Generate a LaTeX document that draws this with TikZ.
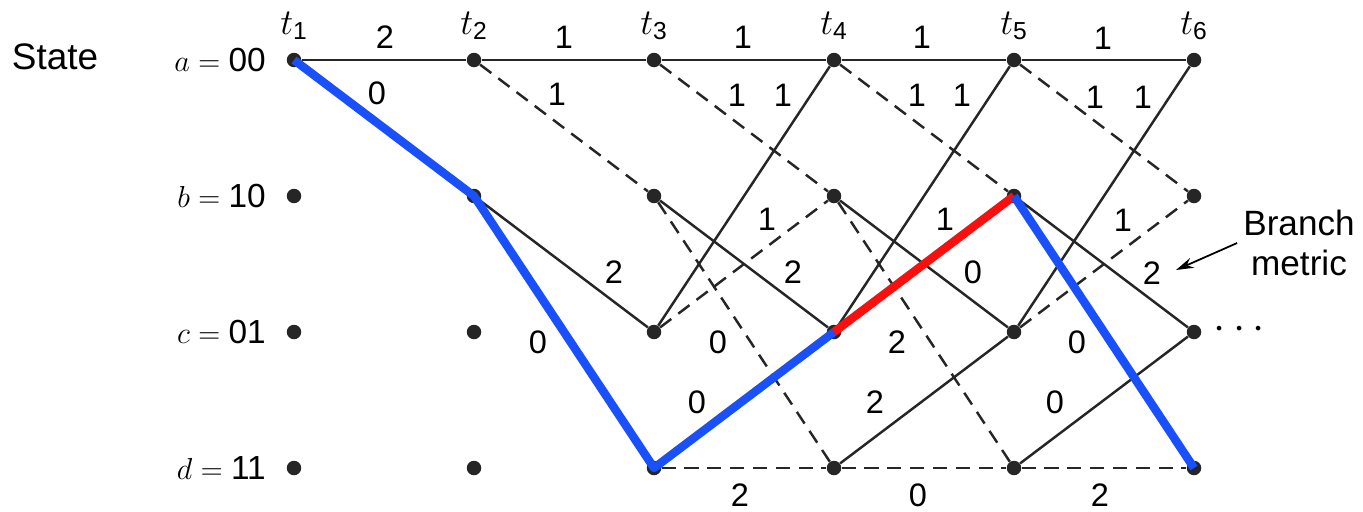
\documentclass[tikz,border=0pt]{standalone}
\usepackage{amsmath}
\usepackage{fontspec}
\setmainfont{Liberation Sans}
\usetikzlibrary{arrows.meta}

\definecolor{bleuchemin}{RGB}{25,80,250}
\definecolor{rougechemin}{RGB}{250,15,15}

\tikzset{
  etat/.style={circle, fill=black!85, inner sep=0pt, minimum size=0.29cm},
  branche/.style={line width=1.4pt, draw=black!85},
  branchetiret/.style={line width=1.4pt, draw=black!85, dash pattern=on 8pt off 5pt},
  chemin/.style={line width=4.8pt, draw=bleuchemin, line join=round},
  cheminrouge/.style={line width=4.8pt, draw=rougechemin, line join=round},
  metrique/.style={inner sep=1pt, font=\fontsize{18.5}{22}\selectfont},
}

\begin{document}
\begin{tikzpicture}[x=0.02cm, y=-0.02cm, font=\fontsize{19}{22}\selectfont]
        \useasboundingbox (0,0) rectangle (1363,511);
        % Etats
        \node[font=\fontsize{21}{24}\selectfont] (titre) at (55,57) {State};
        \node[anchor=east] (etiqa) at (272,60) {$a=\text{00}$};
        \node[anchor=east] (etiqb) at (272,196) {$b=\text{10}$};
        \node[anchor=east] (etiqc) at (272,332) {$c=\text{01}$};
        \node[anchor=east] (etiqd) at (272,468) {$d=\text{11}$};
        
        % Noeuds du treillis
        \foreach \i/\x in {1/294,2/474,3/654,4/834,5/1014,6/1194}{
            \node[etat] (a\i) at (\x,60) {};
            \node[etat] (b\i) at (\x,196) {};
            \node[etat] (c\i) at (\x,332) {};
            \node[etat] (d\i) at (\x,468) {};
            \node[font=\fontsize{20}{23}\selectfont] (t\i) at (\x,26) {$t_{\text{\i}}$};
        }
        
        % Branches t1 -> t2
        \draw[branche] (a1) -- (a2);
        
        % Branches t2 -> t3
        \draw[branche] (a2) -- (a3);
        \draw[branchetiret] (a2) -- (b3);
        \draw[branche] (b2) -- (c3);
        
        % Branches t3 -> t4
        \draw[branche] (a3) -- (a4);
        \draw[branchetiret] (a3) -- (b4);
        \draw[branche] (b3) -- (c4);
        \draw[branchetiret] (b3) -- (d4);
        \draw[branche] (c3) -- (a4);
        \draw[branchetiret] (c3) -- (b4);
        \draw[branchetiret] (d3) -- (d4);
        
        % Branches t4 -> t5
        \draw[branche] (a4) -- (a5);
        \draw[branchetiret] (a4) -- (b5);
        \draw[branche] (b4) -- (c5);
        \draw[branchetiret] (b4) -- (d5);
        \draw[branche] (c4) -- (a5);
        \draw[branche] (d4) -- (c5);
        \draw[branchetiret] (d4) -- (d5);
        
        % Branches t5 -> t6
        \draw[branche] (a5) -- (a6);
        \draw[branchetiret] (a5) -- (b6);
        \draw[branche] (b5) -- (c6);
        \draw[branche] (c5) -- (a6);
        \draw[branchetiret] (c5) -- (b6);
        \draw[branche] (d5) -- (c6);
        \draw[branchetiret] (d5) -- (d6);
        
        % Chemin survivant
        \draw[chemin] (a1.center) -- (b2.center) -- (d3.center) -- (c4.center);
        \draw[cheminrouge] (c4.center) -- (b5.center);
        \draw[chemin] (b5.center) -- (d6.center);
        
        % Metriques de branche
        \node[metrique] at (385,37) {2};
        \node[metrique] at (377,93) {0};
        \node[metrique] at (564,37) {1};
        \node[metrique] at (557,94) {1};
        \node[metrique] at (614,272) {2};
        \node[metrique] at (538,342) {0};
        
        \node[metrique] at (743,37) {1};
        \node[metrique] at (737,95) {1};
        \node[metrique] at (783,95) {1};
        \node[metrique] at (767,219) {1};
        \node[metrique] at (793,272) {2};
        \node[metrique] at (718,342) {0};
        \node[metrique] at (697,402) {0};
        \node[metrique] at (740,495) {2};
        
        \node[metrique] at (922,37) {1};
        \node[metrique] at (917,95) {1};
        \node[metrique] at (962,95) {1};
        \node[metrique] at (945,219) {1};
        \node[metrique] at (973,272) {0};
        \node[metrique] at (897,342) {2};
        \node[metrique] at (875,402) {2};
        \node[metrique] at (918,495) {0};
        
        \node[metrique] at (1103,38) {1};
        \node[metrique] at (1095,97) {1};
        \node[metrique] at (1143,97) {1};
        \node[metrique] at (1123,220) {1};
        \node[metrique] (deux) at (1152,273) {2};
        \node[metrique] at (1077,342) {0};
        \node[metrique] at (1055,402) {0};
        \node[metrique] at (1100,495) {2};
        
        % Legende
        \node[align=center, font=\fontsize{20}{23}\selectfont] (legende) at (1299,243) {Branch\\metric};
        \coordinate (pointe) at (1176,270);
        \draw[line width=1pt, -{Stealth[length=10pt,width=6pt]}] (legende.west) -- (pointe);
        \node[font=\fontsize{28}{30}\selectfont] (suite) at (1243,330) {$\cdots$};
    \end{tikzpicture}
\end{document}
